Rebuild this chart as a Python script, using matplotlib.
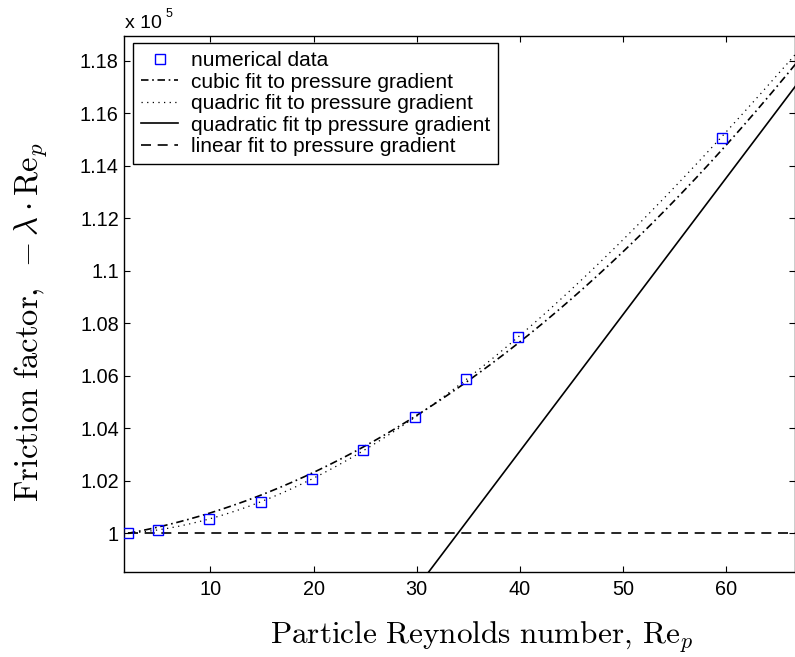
import numpy as np
import matplotlib
matplotlib.use("Agg")
import matplotlib.pyplot as plt

# numerical data (friction factor in units of 1e5)
re_p = [1.98, 4.95, 9.9, 14.9, 19.9, 24.8, 29.8, 34.8, 39.8, 59.6]
friction = [1.0, 1.0011, 1.0053, 1.0118, 1.0208, 1.0316, 1.0443, 1.0587, 1.0749, 1.1505]

# fit curves as polynomial coefficients in Re_p (highest power first)
cubic_fit = [3.148e-5, 5.963e-4, 0.99868]
quadric_fit = [-2.018e-7, 5.3247e-5, 8.503e-5, 0.999618]
quadratic_fit = [0.005202, 0.82313]
linear_fit = [1.0]
fit_range = [2.0, 67.0]

xticks = [10, 20, 30, 40, 50, 60]
yticks = [1.0, 1.02, 1.04, 1.06, 1.08, 1.1, 1.12, 1.14, 1.16, 1.18]
ytick_labels = ['1', '1.02', '1.04', '1.06', '1.08', '1.1', '1.12', '1.14', '1.16', '1.18']

plt.rcParams['font.family'] = ['Liberation Sans', 'DejaVu Sans']
plt.rcParams['mathtext.fontset'] = 'cm'

fig = plt.figure(figsize=(7.95, 6.57), dpi=100)
ax = fig.add_axes([0.1564, 0.1298, 0.8436, 0.8154])

xs = np.linspace(fit_range[0], fit_range[1], 400)
ax.plot(re_p, friction, 's', mfc='none', mec='#0000ff', ms=6.5, mew=1.0,
        label='numerical data', zorder=3)
ax.plot(xs, np.polyval(cubic_fit, xs), color='k', lw=1.2, dashes=(4.5, 2.2, 1, 2.2),
        label='cubic fit to pressure gradient')
ax.plot(xs, np.polyval(quadric_fit, xs), color='k', lw=0.9, dashes=(1, 3.5),
        label='quadric fit to pressure gradient')
ax.plot(xs, np.polyval(quadratic_fit, xs), color='k', lw=1.2,
        label='quadratic fit tp pressure gradient')
ax.plot(xs, np.polyval(linear_fit, xs), color='k', lw=1.2, dashes=(6, 4),
        label='linear fit to pressure gradient')

ax.set_xlim(1.65, 66.7)
ax.set_ylim(0.98537, 1.18945)
ax.set_xticks(xticks)
ax.set_yticks(yticks)
ax.set_yticklabels(ytick_labels)
ax.tick_params(direction='in', length=4.3, width=0.8, labelsize=14.3,
               top=True, right=True)
ax.tick_params(axis='x', pad=6)
ax.tick_params(axis='y', pad=4)
for s in ax.spines.values():
    s.set_linewidth(1.0)

ax.text(0.001, 1.0144, 'x 10', transform=ax.transAxes, fontsize=14, va='baseline')
ax.text(0.0607, 1.036, '5', transform=ax.transAxes, fontsize=9, va='baseline')

ax.set_xlabel(r'$\mathrm{Particle\ Reynolds\ number,\,Re}_{p}$', fontsize=22.5)
ax.xaxis.set_label_coords(0.533, -0.09)
ax.set_ylabel(r'$\mathrm{Friction\ factor,}\ -\lambda\cdot\mathrm{Re}_{p}$', fontsize=23.5)
ax.yaxis.set_label_coords(-0.113, 0.466)

leg = ax.legend(loc='upper left', bbox_to_anchor=(0.013, 0.9864), borderaxespad=0,
                fontsize=15, fancybox=False, framealpha=1, edgecolor='k',
                handlelength=1.8, handletextpad=0.6, labelspacing=0.12,
                borderpad=0.38, numpoints=1)
leg.get_frame().set_linewidth(1.0)

fig.savefig('out.png', dpi=100)
